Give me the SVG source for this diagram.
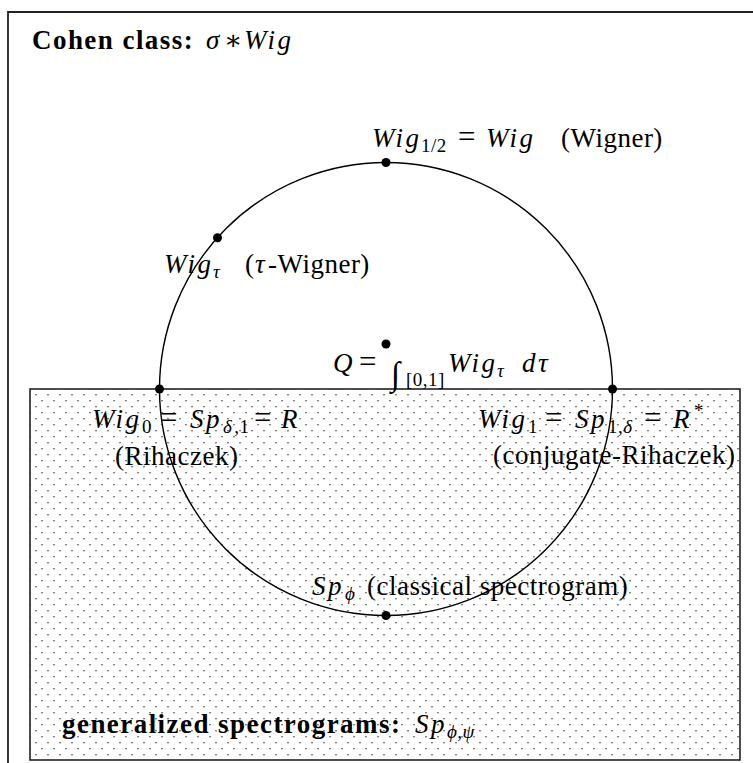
<svg xmlns="http://www.w3.org/2000/svg" width="753" height="763" viewBox="0 0 753 763">
  <style>
    .t { font-family: "Liberation Serif", "DejaVu Serif", serif; font-size: 27px; fill: #000; }
    .m { font-style: italic; letter-spacing: 2.5px; }
    .r { letter-spacing: 0.5px; }
    .b { font-weight: bold; letter-spacing: 1.45px; }
    .s { font-size: 19px; letter-spacing: 0.5px; }
    .eq { font-size: 31px; letter-spacing: 0; }
    .frame { fill: none; stroke: #222; stroke-width: 1.8; }
    .box { stroke: #222; stroke-width: 1.6; }
    .curve { fill: none; stroke: #000; stroke-width: 1.4; }
    .dot { fill: #000; }
  </style>
  <defs>
    <pattern id="dots" patternUnits="userSpaceOnUse" x="-3" y="0" width="12" height="12">
      <rect x="2.35" y="10.05" width="1.3" height="1.3" fill="#333"/>
      <rect x="8.35" y="4.05" width="1.3" height="1.3" fill="#333"/>
    </pattern>
  </defs>
  <rect width="753" height="763" fill="#fff"/>

  <g id="cohen-class">
    <path class="frame" d="M8 763 V12 H753"/>
    <text class="t" y="49"><tspan x="32" class="b">Cohen class:</tspan><tspan x="206" class="m">σ</tspan><tspan x="224">∗</tspan><tspan x="244" class="m">Wig</tspan></text>
  </g>

  <g id="generalized-spectrograms">
    <rect class="box" x="30" y="389" width="710" height="371" fill="url(#dots)"/>
    <text class="t" y="733"><tspan x="62" class="b">generalized spectrograms:</tspan><tspan x="415" class="m">Sp</tspan><tspan x="447" y="738" class="s m">ϕ,ψ</tspan></text>
  </g>

  <g id="connectors">
    <circle class="curve" cx="386" cy="389" r="226.5"/>
  </g>

  <g id="node-wig-half">
    <circle class="dot" cx="386" cy="162.5" r="4.5"/>
    <text class="t" y="147"><tspan x="372" class="m">Wig</tspan><tspan x="421" y="152" class="s">1/2</tspan><tspan x="458" y="147" class="eq">=</tspan><tspan x="486" class="m">Wig</tspan><tspan x="561" class="r">(Wigner)</tspan></text>
  </g>

  <g id="node-wig-tau">
    <circle class="dot" cx="217.5" cy="237.7" r="4.5"/>
    <text class="t" y="273"><tspan x="164" class="m">Wig</tspan><tspan x="213" y="278" class="s m">τ</tspan><tspan x="245" y="273">(</tspan><tspan x="255" class="m">τ</tspan><tspan x="268" class="r">-Wigner)</tspan></text>
  </g>

  <g id="node-q">
    <circle class="dot" cx="386" cy="344" r="4.5"/>
    <text class="t" y="372"><tspan x="333" class="m">Q</tspan><tspan x="359" class="eq">=</tspan><tspan x="391" y="384.5" style="font-size:33.5px;font-style:italic">∫</tspan><tspan x="406" y="386" class="s">[0,1]</tspan><tspan x="448" y="372" class="m">Wig</tspan><tspan x="497" y="377" class="s m">τ</tspan><tspan x="522" y="372" class="m">dτ</tspan></text>
  </g>

  <g id="node-wig0">
    <circle class="dot" cx="159.5" cy="389" r="4.5"/>
    <text class="t" y="428"><tspan x="92" class="m">Wig</tspan><tspan x="142" y="433" class="s">0</tspan><tspan x="160" y="428" class="eq">=</tspan><tspan x="190" class="m">Sp</tspan><tspan x="223" y="433" class="s"><tspan class="m">δ</tspan>,1</tspan><tspan x="254" y="428" class="eq">=</tspan><tspan x="281" class="m">R</tspan></text>
    <text class="t r" x="115" y="465">(Rihaczek)</text>
  </g>

  <g id="node-wig1">
    <circle class="dot" cx="612.5" cy="389" r="4.5"/>
    <text class="t" y="428"><tspan x="478" class="m">Wig</tspan><tspan x="528" y="433" class="s">1</tspan><tspan x="545" y="428" class="eq">=</tspan><tspan x="575" class="m">Sp</tspan><tspan x="608" y="433" class="s">1,<tspan class="m">δ</tspan></tspan><tspan x="644" y="428" class="eq">=</tspan><tspan x="673" class="m">R</tspan><tspan x="694" y="417" class="s">*</tspan></text>
    <text class="t r" x="493" y="464">(conjugate-Rihaczek)</text>
  </g>

  <g id="node-sp-phi">
    <circle class="dot" cx="386" cy="615.5" r="4.5"/>
    <text class="t" y="595"><tspan x="312" class="m">Sp</tspan><tspan x="345" y="600" class="s m">ϕ</tspan><tspan x="367" y="595" class="r">(classical spectrogram)</tspan></text>
  </g>
</svg>
